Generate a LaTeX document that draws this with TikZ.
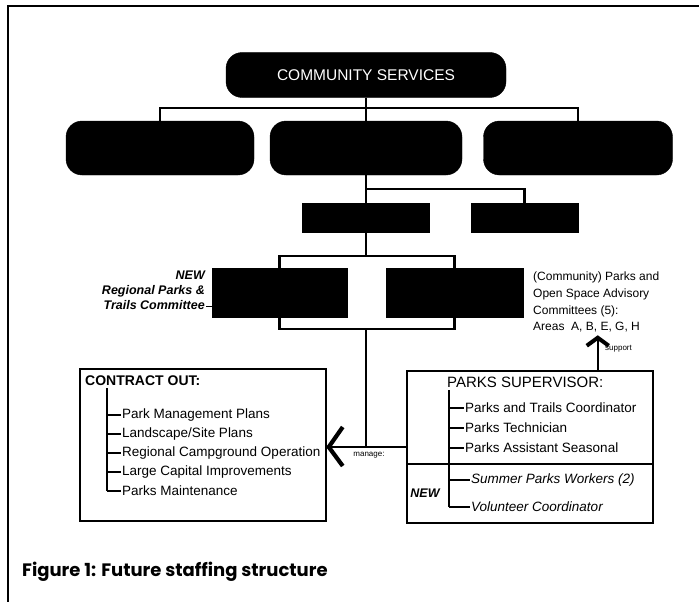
\documentclass[tikz,border=0pt]{standalone}
\usepackage{fontspec}
\setmainfont{Liberation Sans}
\newfontfamily\capfont{Poppins}
\usetikzlibrary{arrows.meta,calc}
\begin{document}
\begin{tikzpicture}[x=1pt,y=-1pt,
  blackrnd/.style={fill=black,draw=black,rounded corners=16pt,inner sep=0pt},
  blackbox/.style={fill=black,draw=black,inner sep=0pt},
  conn/.style={line width=2.2pt},
  chevron/.style={line width=4.2pt,line join=miter,line cap=butt},
  framebox/.style={draw,line width=1.5pt,inner sep=0pt,minimum width=246pt,minimum height=152pt},
  item/.style={anchor=west,inner sep=1pt,font=\fontsize{13.5}{16}\selectfont},
  itemit/.style={item,font=\fontsize{13.5}{16}\selectfont\itshape},
  hdr/.style={anchor=west,inner sep=0pt},
  tick/.style={line width=1.2pt},
  bar/.style={line width=2.6pt},
  tiny/.style={inner sep=0pt,font=\fontsize{8}{9}\selectfont}]
\useasboundingbox (0,0) rectangle (699,602);
% frame
\draw[line width=1.3pt] (8,602) -- (8,6) -- (699,6);
% top hierarchy
\node[blackrnd,minimum width=280pt,minimum height=45pt,text=white,font=\fontsize{15.5}{18}\selectfont] (cs) at (366,75) {COMMUNITY SERVICES};
\node[blackrnd,minimum width=188pt,minimum height=54pt] (r2a) at (160,148) {};
\node[blackrnd,minimum width=192pt,minimum height=54pt] (r2b) at (366,148) {};
\node[blackrnd,minimum width=189pt,minimum height=54pt] (r2c) at (578,148) {};
\draw[conn] (r2a.north) -- ++(0,-13) -| (r2c.north);
\draw[conn] (cs.south) -- (r2b.north);
% tier 3
\node[blackbox,minimum width=127pt,minimum height=29pt] (t3a) at (366,217.5) {};
\node[blackbox,minimum width=107pt,minimum height=29pt] (t3b) at (524.5,217.5) {};
\draw[conn] (r2b.south) -- (t3a.north);
\draw[conn] (t3b.north) |- ($(r2b.south)!0.5!(t3a.north)$);
% tier 4
\node[blackbox,minimum width=135pt,minimum height=49pt] (t4a) at (279.5,292.5) {};
\node[blackbox,minimum width=137pt,minimum height=49pt] (t4b) at (454.5,292.5) {};
\draw[conn] (t3a.south) -- ++(0,24);
\draw[conn] (t4a.north) -- ++(0,-12) -| (t4b.north);
\draw[conn] (t4a.south) -- ++(0,12) -| (t4b.south);
\coordinate (j2) at ($(t3a.south |- t4a.south)+(0,12)$);
% side labels
\node[anchor=north east,align=right,inner sep=0pt,font=\fontsize{12.5}{15}\selectfont\bfseries\itshape] (rp) at (205,271) {NEW\\Regional Parks \&\\Trails Committee};
\draw[line width=0.8pt] ($(rp.south east)+(1,-4)$) -- ($(rp.south east)+(7,-4)$);
\node[anchor=north west,align=left,inner sep=0pt,font=\fontsize{12}{16.7}\selectfont] (pc) at (533,272) {(Community) Parks and\\Open Space Advisory\\Committees (5):\\Areas\ \ A, B, E, G, H};
% lower boxes
\node[framebox] (co) at (203,445) {};
\node[framebox] (ps) at (530,447) {};
\draw[line width=1.2pt] (ps.west |- 0,464) -- (ps.east |- 0,464);
% manage connector and arrow
\draw[conn] (j2) |- (ps.west);
\coordinate (tipL) at ($(co.east |- ps.west)+(2,0)$);
\draw[conn] (j2 |- ps.west) -- (tipL);
\draw[chevron] ($(tipL)+(14,-20)$) -- (tipL) -- ($(tipL)+(14,19)$);
\node[tiny] (mg) at (369,455) {manage:};
% support arrow
\coordinate (sup) at ($(ps.north east)+(-56,0)$);
\coordinate (tipU) at ($(sup |- pc.south)+(0,5)$);
\draw[conn] (sup) -- (tipU);
\draw[line width=4pt,line join=miter] ($(tipU)+(-11,8)$) -- (tipU) -- ($(tipU)+(11,8)$);
\node[tiny,anchor=west] (sp) at (605,349) {support};
% contract out contents
\node[hdr,font=\fontsize{14}{16}\selectfont\bfseries] (coh) at (85,381) {CONTRACT OUT:};
\node[item] (co1) at (121,415) {Park Management Plans};
\node[item] (co2) at (121,434) {Landscape/Site Plans};
\node[item] (co3) at (121,453) {Regional Campground Operation};
\node[item] (co4) at (121,472) {Large Capital Improvements};
\node[item] (co5) at (121,491) {Parks Maintenance};
\draw[bar] (107,388) -- (107 ,491);
\draw[tick] (107,491) -- (co5.west);
\draw[tick] (107,415) -- (co1.west);
\draw[tick] (107,434) -- (co2.west);
\draw[tick] (107,453) -- (co3.west);
\draw[tick] (107,472) -- (co4.west);
% parks supervisor contents
\node[hdr,font=\fontsize{15}{17}\selectfont] (psh) at (447,382) {PARKS SUPERVISOR:};
\node[item] (ps1) at (464,408) {Parks and Trails Coordinator};
\node[item] (ps2) at (464,428) {Parks Technician};
\node[item] (ps3) at (464,448) {Parks Assistant Seasonal};
\node[itemit] (ps4) at (470,480) {Summer Parks Workers (2)};
\node[itemit] (ps5) at (470,507) {Volunteer Coordinator};
\node[inner sep=0pt,font=\fontsize{12.5}{15}\selectfont\bfseries\itshape] (nw) at (425,493) {NEW};
\draw[bar] (449,390) -- (449,464);
\draw[line width=1.6pt] (449,464) -- (449,507);
\draw[tick] (449,408) -- (ps1.west);
\draw[tick] (449,428) -- (ps2.west);
\draw[tick] (449,448) -- (ps3.west);
\draw[tick] (449,480) -- (ps4.west);
\draw[tick] (449,507) -- (ps5.west);
% caption
\node[anchor=west,inner sep=0pt,font=\capfont\bfseries\fontsize{18}{21}\selectfont] (cap) at (22,572) {Figure 1: Future staffing structure};
\end{tikzpicture}
\end{document}
